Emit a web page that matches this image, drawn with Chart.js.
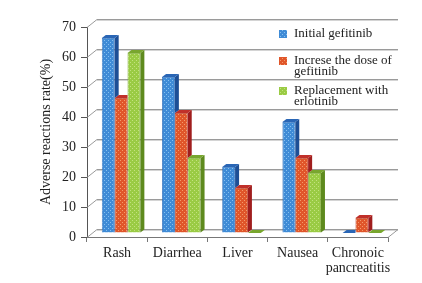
<!DOCTYPE html>
<html><head><meta charset="utf-8">
<script src="https://cdn.jsdelivr.net/npm/chart.js@4/dist/chart.umd.min.js"></script>
<style>html,body{margin:0;padding:0;background:#fff}#wrap{width:422px;height:283px;position:relative}</style>
</head><body><div id="wrap"><canvas id="c" width="422" height="283"></canvas></div>
<script>
const categories = ["Rash", "Diarrhea", "Liver", "Nausea", ["Chronoic", "pancreatitis"]];
const initialGefitinib = [65, 52, 22, 37, 0];
const increaseDose = [45, 40, 15, 25, 5];
const replacementErlotinib = [60, 25, 0, 20, 0];
const legendLines = [["Initial gefitinib"], ["Increse the dose of", "gefitinib"], ["Replacement with", "erlotinib"]];
const yTicks = [0, 10, 20, 30, 40, 50, 60, 70];
const yTitle = "Adverse reactions rate(%)";

const SERIF = "'Liberation Serif', 'Times New Roman', serif";
const palette = [
  {base:'#3f8bd6', dot:'#86c0f0', side:'#1d4f96', top:'#2a66b5', border:'#2a6ab8'},
  {base:'#e0562a', dot:'#f49a6a', side:'#a01e1e', top:'#c0302a', border:'#b83a22'},
  {base:'#9acb44', dot:'#c2e27e', side:'#5e8a1e', top:'#78a62e', border:'#78a62e'}
];
function makePattern(p){
  const c = document.createElement('canvas'); c.width = 4; c.height = 4;
  const g = c.getContext('2d');
  g.fillStyle = p.base; g.fillRect(0,0,4,4);
  g.fillStyle = p.dot; g.fillRect(0,0,1,1); g.fillRect(2,2,1,1);
  return g.createPattern(c, 'repeat');
}
const patterns = palette.map(makePattern);

const DX = 4, DY = 3;      // bar depth
const SX = 4, SY = -4;     // bar placement in depth
const BX = 10, BY = -8;    // back wall offset

function barProps(bar){ return bar.getProps(['x','y','base','width'], true); }

const depthPlugin = {
  id: 'depth',
  beforeDatasetsDraw(chart){
    const ctx = chart.ctx, a = chart.chartArea, ys = chart.scales.y;
    ctx.save();
    yTicks.forEach(v => {
      const y = Math.round(ys.getPixelForValue(v)) + 0.5;
      ctx.strokeStyle = '#d4d4d4'; ctx.lineWidth = 1;
      ctx.beginPath(); ctx.moveTo(a.left + BX, y + BY + 1); ctx.lineTo(a.right + BX, y + BY + 1); ctx.stroke();
      ctx.strokeStyle = '#9a9a9a';
      ctx.beginPath(); ctx.moveTo(a.left, y); ctx.lineTo(a.left + BX, y + BY); ctx.lineTo(a.right + BX, y + BY); ctx.stroke();
    });
    ctx.strokeStyle = '#9a9a9a';
    ctx.beginPath(); ctx.moveTo(a.right, a.bottom + 0.5); ctx.lineTo(a.right + BX, a.bottom + BY + 0.5); ctx.stroke();
    ctx.restore();
  },
  beforeDatasetDraw(chart){
    chart.ctx.save();
    chart.ctx.translate(SX, SY);
  },
  afterDatasetDraw(chart, args){
    const ctx = chart.ctx;
    const p = palette[args.index];
    const nextMeta = args.index + 1 < chart.data.datasets.length ? chart.getDatasetMeta(args.index + 1) : null;
    args.meta.data.forEach((bar, j) => {
      const {x, y, base, width} = barProps(bar);
      const l = x - width/2, r = x + width/2;
      ctx.save();
      if (nextMeta) {
        const n = barProps(nextMeta.data[j]);
        const nl = n.x - n.width/2, nr = n.x + n.width/2;
        ctx.beginPath();
        ctx.rect(-50, -50, 600, 400);
        ctx.moveTo(nl, n.base + 2); ctx.lineTo(nl, n.y); ctx.lineTo(nl + DX, n.y - DY);
        ctx.lineTo(nr + DX, n.y - DY); ctx.lineTo(nr + DX, n.base + 2); ctx.closePath();
        ctx.clip('evenodd');
      }
      ctx.fillStyle = p.side;
      ctx.beginPath(); ctx.moveTo(r, y); ctx.lineTo(r + DX, y - DY); ctx.lineTo(r + DX, base - DY); ctx.lineTo(r, base); ctx.closePath(); ctx.fill();
      ctx.fillStyle = p.top;
      ctx.beginPath(); ctx.moveTo(l, y); ctx.lineTo(l + DX, y - DY); ctx.lineTo(r + DX, y - DY); ctx.lineTo(r, y); ctx.closePath(); ctx.fill();
      ctx.restore();
    });
    ctx.restore();
  },
  afterDraw(chart){
    const ctx = chart.ctx;
    ctx.save();
    ctx.font = '13px ' + SERIF;
    ctx.textBaseline = 'middle';
    const ys = [34, 61, 91];
    legendLines.forEach((lines, i) => {
      ctx.fillStyle = patterns[i];
      ctx.fillRect(279, ys[i] - 4, 8, 8);
      ctx.fillStyle = '#222';
      lines.forEach((t, k) => ctx.fillText(t, 294, ys[i] + k * 10.5));
    });
    ctx.restore();
  }
};

const names = legendLines.map(l => l.join(' '));
const series = [initialGefitinib, increaseDose, replacementErlotinib];
new Chart(document.getElementById('c'), {
  type: 'bar',
  data: {
    labels: categories,
    datasets: series.map((d, i) => ({
      label: names[i], data: d,
      backgroundColor: patterns[i], borderColor: palette[i].border, borderWidth: 0.8,
      barPercentage: 1.0, categoryPercentage: 0.64, clip: false
    }))
  },
  options: {
    responsive: false, animation: false, devicePixelRatio: 1,
    layout: {padding: {left: 34, top: 27, right: 34, bottom: 0}},
    plugins: {legend: {display: false}, tooltip: {enabled: false}},
    scales: {
      x: {
        grid: {drawOnChartArea: false, tickLength: 5, color: '#777', offset: true},
        border: {color: '#777'},
        ticks: {font: {family: SERIF, size: 14, lineHeight: 1.05}, color: '#222', padding: 4, maxRotation: 0, autoSkip: false},
        afterFit(s){ s.height = 46; }
      },
      y: {
        min: 0, max: 70,
        afterBuildTicks(s){ s.ticks = yTicks.map(v => ({value: v})); },
        grid: {drawOnChartArea: false, tickLength: 6, color: '#555'},
        border: {color: '#555'},
        ticks: {font: {family: SERIF, size: 14}, color: '#222', padding: 5},
        title: {display: true, text: yTitle, font: {family: SERIF, size: 14}, color: '#222'},
        afterFit(s){ s.width = 53; }
      }
    }
  },
  plugins: [depthPlugin]
});
</script></body></html>
